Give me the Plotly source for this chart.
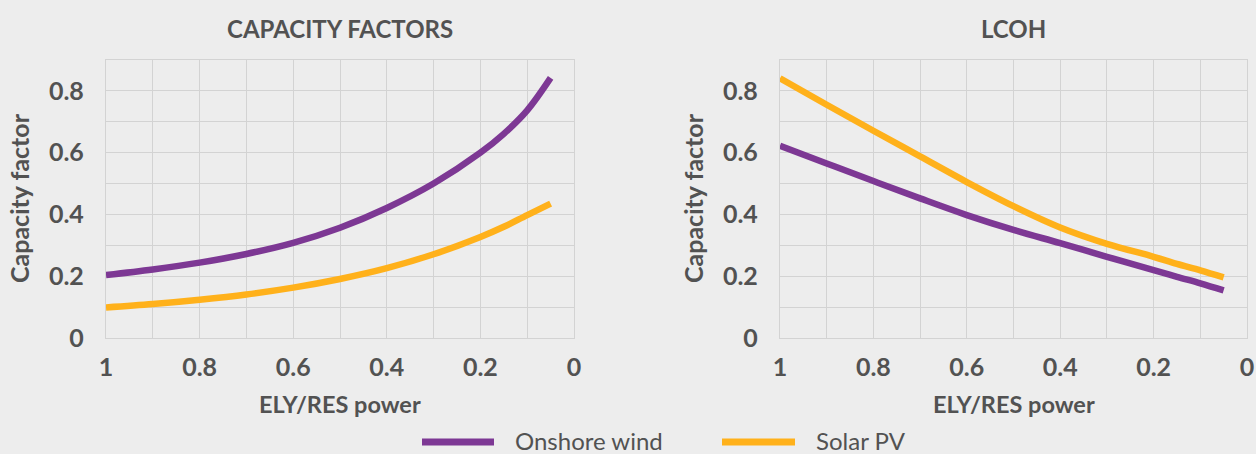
import plotly.graph_objects as go
from plotly.subplots import make_subplots

# ELY/RES power ratio (x axis, shown reversed from 1 to 0)
ratio = [1.0, 0.9, 0.8, 0.7, 0.6, 0.5, 0.4, 0.3, 0.2, 0.15, 0.1, 0.05]

# Capacity factors panel
cf_onshore_wind = [0.204, 0.222, 0.244, 0.272, 0.308, 0.357, 0.421, 0.500, 0.600, 0.661, 0.737, 0.842]
cf_solar_pv = [0.099, 0.110, 0.124, 0.141, 0.163, 0.191, 0.226, 0.271, 0.327, 0.360, 0.398, 0.435]

# LCOH panel
lcoh_onshore_wind = [0.622, 0.565, 0.508, 0.452, 0.398, 0.350, 0.307, 0.263, 0.220, 0.198, 0.177, 0.154]
lcoh_solar_pv = [0.841, 0.755, 0.671, 0.588, 0.505, 0.427, 0.358, 0.305, 0.263, 0.240, 0.219, 0.196]

panel_titles = ["CAPACITY FACTORS", "LCOH"]
series_names = ["Onshore wind", "Solar PV"]
x_title = "ELY/RES power"
y_title = "Capacity factor"

PURPLE = "#7D3894"
ORANGE = "#FFB11B"
BG = "#EDEDED"
GRID = "#D3D3D3"
TEXT = "#525252"
FONT = "Lato"

W, H = 1256, 454

fig = make_subplots(rows=1, cols=2)

panels = [(cf_onshore_wind, cf_solar_pv), (lcoh_onshore_wind, lcoh_solar_pv)]
for col, (wind, solar) in enumerate(panels, start=1):
    for name, ys, color in [(series_names[0], wind, PURPLE), (series_names[1], solar, ORANGE)]:
        fig.add_trace(
            go.Scatter(
                x=ratio, y=ys, name=name, mode="lines",
                line=dict(color=color, width=6.5, shape="spline", smoothing=1.0),
                showlegend=False,
            ),
            row=1, col=col,
        )

# plot area positions in pixels
left_px = [(106, 574), (780, 1247)]
top_px, bottom_px = 60, 338
ydom = [1 - bottom_px / H, 1 - top_px / H]

axis_common = dict(
    showgrid=True, gridcolor=GRID, gridwidth=1.3,
    showline=True, mirror=True, linecolor=GRID, linewidth=1.3,
    zeroline=False, ticks="", automargin=False,
    tickfont=dict(family=FONT, size=25, color=TEXT, weight="bold"),
    minor=dict(dtick=0.1, showgrid=True, gridcolor=GRID, gridwidth=1.3),
)

for i, (l, r) in enumerate(left_px, start=1):
    xa = "xaxis" if i == 1 else f"xaxis{i}"
    ya = "yaxis" if i == 1 else f"yaxis{i}"
    fig.update_layout({
        xa: dict(axis_common, domain=[l / W, r / W], range=[1, 0], dtick=0.2, tick0=0,
                 ticklabelstandoff=7),
        ya: dict(axis_common, domain=ydom, range=[0, 0.9], dtick=0.2, tick0=0,
                 ticklabelstandoff=16),
    })

annotations = []
for i, (l, r) in enumerate(left_px):
    cx = (l + r) / 2 / W
    annotations.append(dict(
        text=f"<b>{panel_titles[i]}</b>", x=cx, y=1 - 28 / H, xref="paper", yref="paper",
        showarrow=False, xanchor="center", yanchor="middle",
        font=dict(family=FONT, size=24, color=TEXT),
    ))
    annotations.append(dict(
        text=f"<b>{x_title}</b>", x=cx, y=1 - 404 / H, xref="paper", yref="paper",
        showarrow=False, xanchor="center", yanchor="middle",
        font=dict(family=FONT, size=23.5, color=TEXT),
    ))
    annotations.append(dict(
        text=f"<b>{y_title}</b>", x=(l - 87) / W, y=1 - 198 / H,
        xref="paper", yref="paper", textangle=-90,
        showarrow=False, xanchor="center", yanchor="middle",
        font=dict(family=FONT, size=25, color=TEXT),
    ))

# legend row
legend_y = 1 - 442 / H
shapes = []
for name, color, x0, x1 in [(series_names[0], PURPLE, 422, 494), (series_names[1], ORANGE, 722, 795)]:
    shapes.append(dict(type="line", xref="paper", yref="paper",
                       x0=x0 / W, x1=x1 / W, y0=legend_y, y1=legend_y,
                       line=dict(color=color, width=7)))
    annotations.append(dict(
        text=name, x=(x1 + 19) / W, y=1 - 440 / H, xref="paper", yref="paper",
        showarrow=False, xanchor="left", yanchor="middle",
        font=dict(family=FONT, size=24, color=TEXT),
    ))

fig.update_layout(
    width=W, height=H,
    margin=dict(l=0, r=0, t=0, b=0),
    paper_bgcolor=BG, plot_bgcolor=BG,
    annotations=annotations, shapes=shapes,
    showlegend=False,
)

fig.write_html("out.html")
